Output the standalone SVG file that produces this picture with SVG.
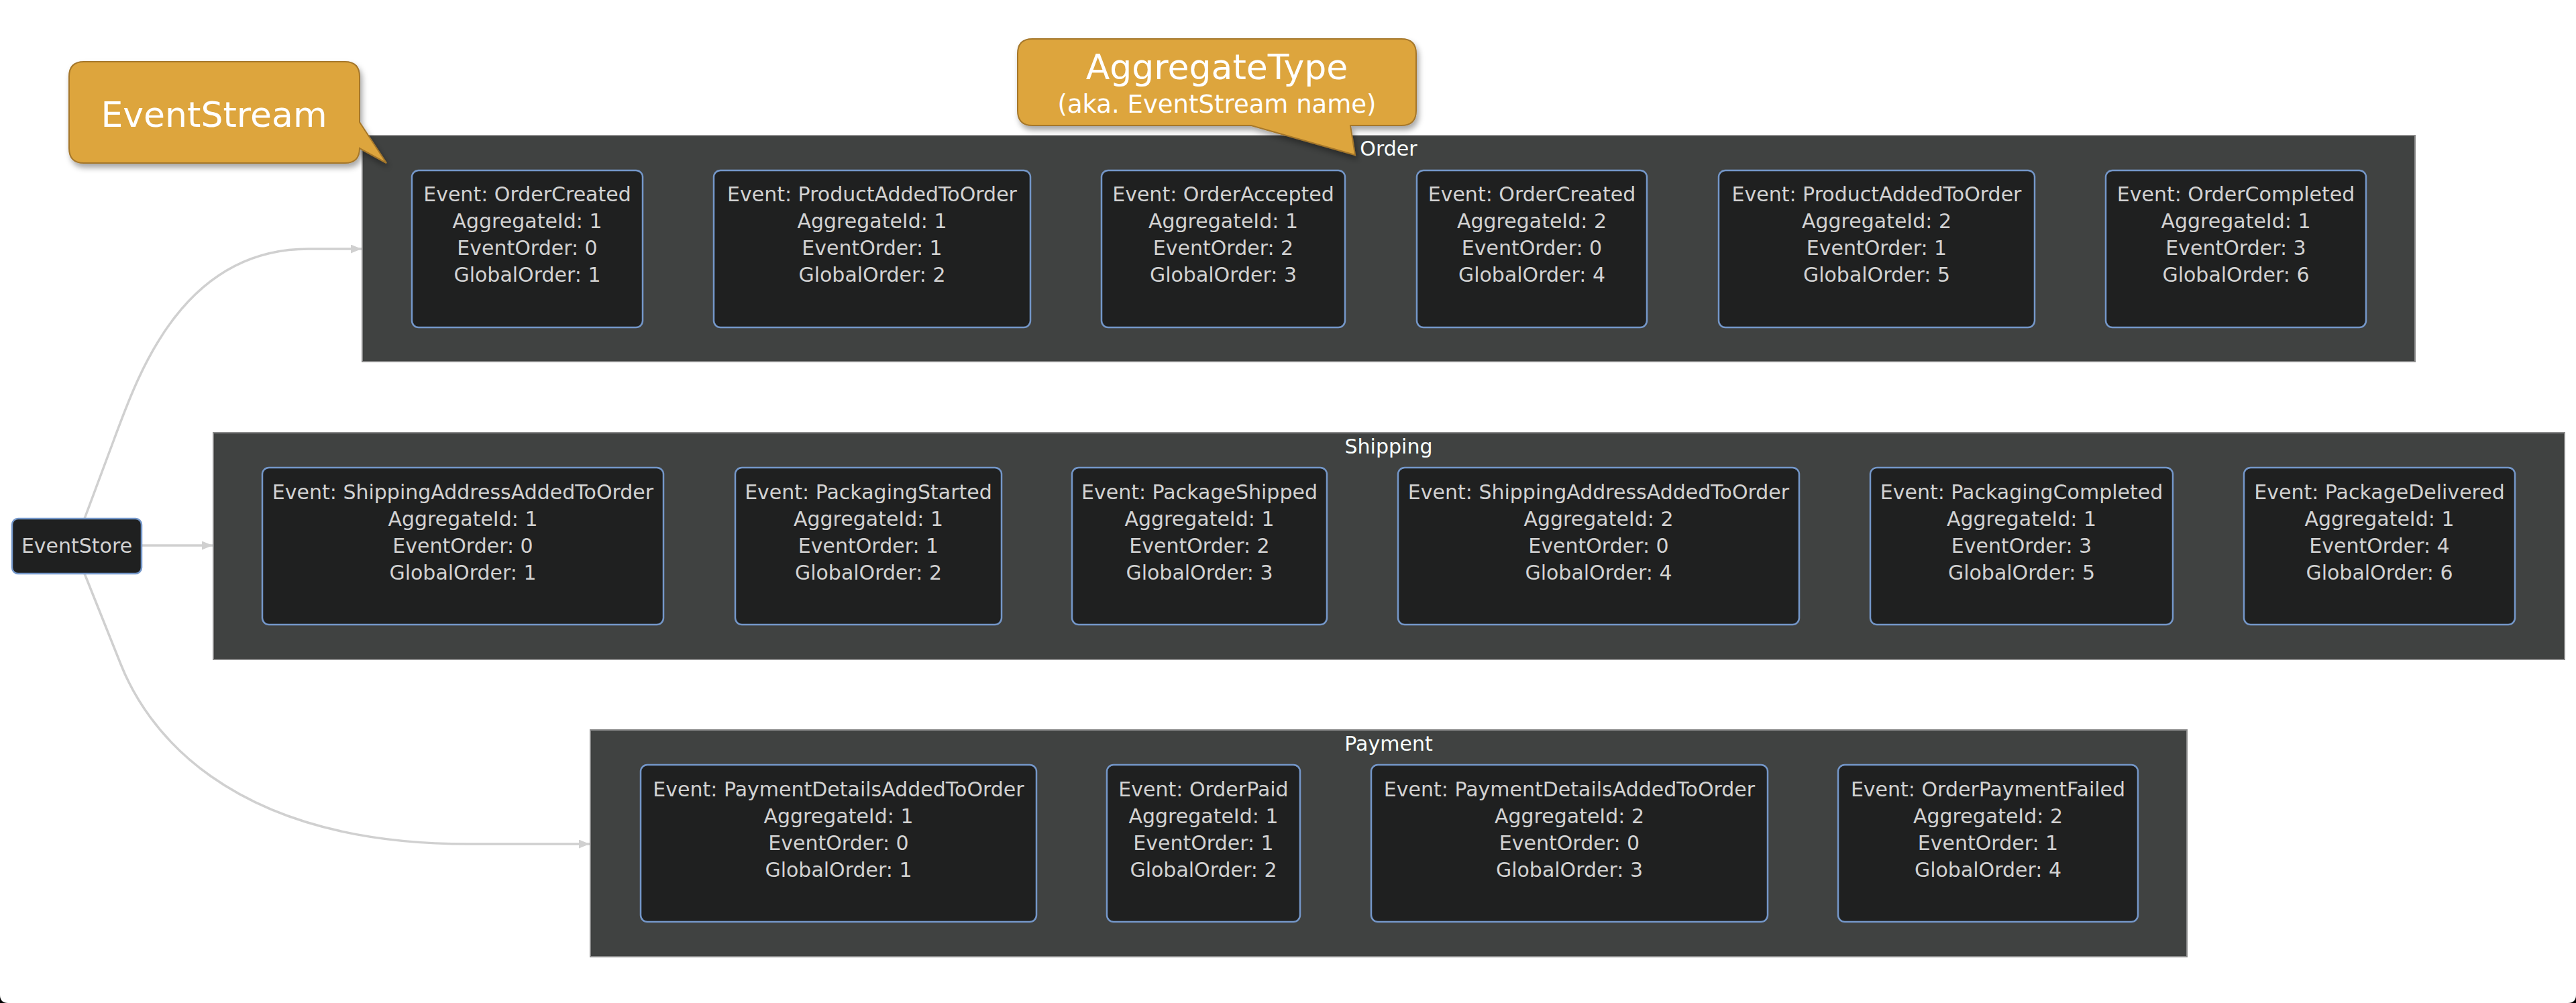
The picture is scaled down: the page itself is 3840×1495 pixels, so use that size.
<svg xmlns="http://www.w3.org/2000/svg" width="3840" height="1495" viewBox="0 0 3840 1495">
<defs>
<style>
.bg{fill:#ffffff}
.cluster{fill:#404241;stroke:#8a8a8a;stroke-width:2}
.ctitle{font-family:"DejaVu Sans",sans-serif;font-size:30px;fill:#f9fffe;text-anchor:middle}
.node{fill:#1f2020;stroke:#7497c9;stroke-width:2.5}
.ntext{font-family:"DejaVu Sans",sans-serif;font-size:30px;fill:#d2d2d2;text-anchor:middle}
.edge{fill:none;stroke:#d0d0d0;stroke-width:3.5}
.callout{fill:#dda53c;stroke:#a5772b;stroke-width:2;filter:url(#shadow)}
.ctext{font-family:"DejaVu Sans",sans-serif;fill:#ffffff;text-anchor:middle}
</style>
<marker id="arrow" markerUnits="userSpaceOnUse" markerWidth="17" markerHeight="14" refX="16" refY="6.5" orient="auto">
<path d="M0,0 L16,6.5 L0,13 Z" fill="#d0d0d0"/>
</marker>
<filter id="shadow" x="-10%" y="-20%" width="125%" height="150%">
<feDropShadow dx="3" dy="6" stdDeviation="4" flood-color="#000" flood-opacity="0.35"/>
</filter>
</defs>
<rect x="0" y="0" width="3840" height="1495" fill="#000"/>
<path class="bg" d="M0,0 H3840 V1483 Q3840,1495 3828,1495 H12 Q0,1495 0,1483 Z"/>

<g id="cluster-order">
<rect class="cluster" x="540" y="202" width="3060" height="337"/>
<text class="ctitle" x="2070" y="232">Order</text>
</g>
<g id="cluster-shipping">
<rect class="cluster" x="318" y="645" width="3505" height="338"/>
<text class="ctitle" x="2070" y="676">Shipping</text>
</g>
<g id="cluster-payment">
<rect class="cluster" x="880" y="1088" width="2380" height="338"/>
<text class="ctitle" x="2070" y="1119">Payment</text>
</g>

<g id="connectors">
<path class="edge" marker-end="url(#arrow)" d="M126,773 L170,655 C205,561 270,371 460,371 L539,371"/>
<path class="edge" marker-end="url(#arrow)" d="M211,813 L317,813"/>
<path class="edge" marker-end="url(#arrow)" d="M126,855 L180,990 C215,1078 330,1258 700,1258 L879,1258"/>
</g>

<g id="eventstore">
<rect class="node" x="18" y="773" width="193" height="82" rx="9"/>
<text class="ntext" x="114.5" y="824">EventStore</text>
</g>

<g id="order-1">
<rect class="node" x="614" y="254" width="344" height="234" rx="10"/>
<text class="ntext" x="786" y="300">Event: OrderCreated</text>
<text class="ntext" x="786" y="340">AggregateId: 1</text>
<text class="ntext" x="786" y="380">EventOrder: 0</text>
<text class="ntext" x="786" y="420">GlobalOrder: 1</text>
</g>
<g id="order-2">
<rect class="node" x="1064" y="254" width="472" height="234" rx="10"/>
<text class="ntext" x="1300" y="300">Event: ProductAddedToOrder</text>
<text class="ntext" x="1300" y="340">AggregateId: 1</text>
<text class="ntext" x="1300" y="380">EventOrder: 1</text>
<text class="ntext" x="1300" y="420">GlobalOrder: 2</text>
</g>
<g id="order-3">
<rect class="node" x="1642" y="254" width="363" height="234" rx="10"/>
<text class="ntext" x="1823.5" y="300">Event: OrderAccepted</text>
<text class="ntext" x="1823.5" y="340">AggregateId: 1</text>
<text class="ntext" x="1823.5" y="380">EventOrder: 2</text>
<text class="ntext" x="1823.5" y="420">GlobalOrder: 3</text>
</g>
<g id="order-4">
<rect class="node" x="2112" y="254" width="343" height="234" rx="10"/>
<text class="ntext" x="2283.5" y="300">Event: OrderCreated</text>
<text class="ntext" x="2283.5" y="340">AggregateId: 2</text>
<text class="ntext" x="2283.5" y="380">EventOrder: 0</text>
<text class="ntext" x="2283.5" y="420">GlobalOrder: 4</text>
</g>
<g id="order-5">
<rect class="node" x="2562" y="254" width="471" height="234" rx="10"/>
<text class="ntext" x="2797.5" y="300">Event: ProductAddedToOrder</text>
<text class="ntext" x="2797.5" y="340">AggregateId: 2</text>
<text class="ntext" x="2797.5" y="380">EventOrder: 1</text>
<text class="ntext" x="2797.5" y="420">GlobalOrder: 5</text>
</g>
<g id="order-6">
<rect class="node" x="3139" y="254" width="388" height="234" rx="10"/>
<text class="ntext" x="3333" y="300">Event: OrderCompleted</text>
<text class="ntext" x="3333" y="340">AggregateId: 1</text>
<text class="ntext" x="3333" y="380">EventOrder: 3</text>
<text class="ntext" x="3333" y="420">GlobalOrder: 6</text>
</g>

<g id="shipping-1">
<rect class="node" x="391" y="697" width="598" height="234" rx="10"/>
<text class="ntext" x="690" y="744">Event: ShippingAddressAddedToOrder</text>
<text class="ntext" x="690" y="784">AggregateId: 1</text>
<text class="ntext" x="690" y="824">EventOrder: 0</text>
<text class="ntext" x="690" y="864">GlobalOrder: 1</text>
</g>
<g id="shipping-2">
<rect class="node" x="1096" y="697" width="397" height="234" rx="10"/>
<text class="ntext" x="1294.5" y="744">Event: PackagingStarted</text>
<text class="ntext" x="1294.5" y="784">AggregateId: 1</text>
<text class="ntext" x="1294.5" y="824">EventOrder: 1</text>
<text class="ntext" x="1294.5" y="864">GlobalOrder: 2</text>
</g>
<g id="shipping-3">
<rect class="node" x="1598" y="697" width="380" height="234" rx="10"/>
<text class="ntext" x="1788" y="744">Event: PackageShipped</text>
<text class="ntext" x="1788" y="784">AggregateId: 1</text>
<text class="ntext" x="1788" y="824">EventOrder: 2</text>
<text class="ntext" x="1788" y="864">GlobalOrder: 3</text>
</g>
<g id="shipping-4">
<rect class="node" x="2084" y="697" width="598" height="234" rx="10"/>
<text class="ntext" x="2383" y="744">Event: ShippingAddressAddedToOrder</text>
<text class="ntext" x="2383" y="784">AggregateId: 2</text>
<text class="ntext" x="2383" y="824">EventOrder: 0</text>
<text class="ntext" x="2383" y="864">GlobalOrder: 4</text>
</g>
<g id="shipping-5">
<rect class="node" x="2788" y="697" width="451" height="234" rx="10"/>
<text class="ntext" x="3013.5" y="744">Event: PackagingCompleted</text>
<text class="ntext" x="3013.5" y="784">AggregateId: 1</text>
<text class="ntext" x="3013.5" y="824">EventOrder: 3</text>
<text class="ntext" x="3013.5" y="864">GlobalOrder: 5</text>
</g>
<g id="shipping-6">
<rect class="node" x="3345" y="697" width="404" height="234" rx="10"/>
<text class="ntext" x="3547" y="744">Event: PackageDelivered</text>
<text class="ntext" x="3547" y="784">AggregateId: 1</text>
<text class="ntext" x="3547" y="824">EventOrder: 4</text>
<text class="ntext" x="3547" y="864">GlobalOrder: 6</text>
</g>

<g id="payment-1">
<rect class="node" x="955" y="1140" width="590" height="234" rx="10"/>
<text class="ntext" x="1250" y="1187">Event: PaymentDetailsAddedToOrder</text>
<text class="ntext" x="1250" y="1227">AggregateId: 1</text>
<text class="ntext" x="1250" y="1267">EventOrder: 0</text>
<text class="ntext" x="1250" y="1307">GlobalOrder: 1</text>
</g>
<g id="payment-2">
<rect class="node" x="1650" y="1140" width="288" height="234" rx="10"/>
<text class="ntext" x="1794" y="1187">Event: OrderPaid</text>
<text class="ntext" x="1794" y="1227">AggregateId: 1</text>
<text class="ntext" x="1794" y="1267">EventOrder: 1</text>
<text class="ntext" x="1794" y="1307">GlobalOrder: 2</text>
</g>
<g id="payment-3">
<rect class="node" x="2044" y="1140" width="591" height="234" rx="10"/>
<text class="ntext" x="2339.5" y="1187">Event: PaymentDetailsAddedToOrder</text>
<text class="ntext" x="2339.5" y="1227">AggregateId: 2</text>
<text class="ntext" x="2339.5" y="1267">EventOrder: 0</text>
<text class="ntext" x="2339.5" y="1307">GlobalOrder: 3</text>
</g>
<g id="payment-4">
<rect class="node" x="2740" y="1140" width="447" height="234" rx="10"/>
<text class="ntext" x="2963.5" y="1187">Event: OrderPaymentFailed</text>
<text class="ntext" x="2963.5" y="1227">AggregateId: 2</text>
<text class="ntext" x="2963.5" y="1267">EventOrder: 1</text>
<text class="ntext" x="2963.5" y="1307">GlobalOrder: 4</text>
</g>

<g id="callout-eventstream">
<path class="callout" d="M125,92 H514 Q536,92 536,114 V182 L576,243 L536,221 Q536,243 514,243 H125 Q103,243 103,221 V114 Q103,92 125,92 Z"/>
<text class="ctext" x="319" y="189" font-size="52">EventStream</text>
</g>
<g id="callout-aggregatetype">
<path class="callout" d="M1539,58 H2089 Q2111,58 2111,80 V165 Q2111,187 2089,187 H2013 L2020,231 L1865,187 H1539 Q1517,187 1517,165 V80 Q1517,58 1539,58 Z"/>
<text class="ctext" x="1814" y="118" font-size="52">AggregateType</text>
<text class="ctext" x="1814" y="168" font-size="37">(aka. EventStream name)</text>
</g>
</svg>
